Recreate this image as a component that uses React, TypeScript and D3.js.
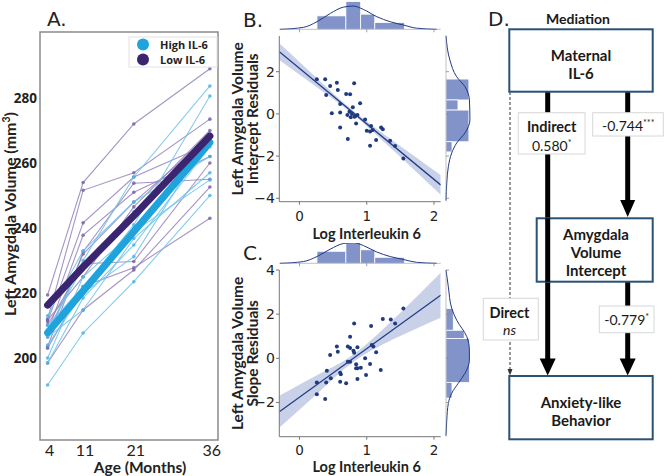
import React from "react";
import * as d3 from "d3";

// ---------- Panel A data ----------
const ages = [4, 11, 21, 36];
const ageTicks = [4, 11, 21, 36];
const volTicks = [200, 220, 240, 260, 280];
const lowIL6Subjects: number[][] = [
  [219.4, 254.0, 272.0, 289.0],
  [212.0, 251.6, 257.0, 273.5],
  [211.2, 241.6, 255.7, 266.0],
  [208.0, 237.8, 251.0, 262.0],
  [203.5, 232.7, 253.8, 255.0],
  [210.2, 229.0, 229.7, 260.0],
  [203.0, 222.0, 227.8, 243.0],
  [198.5, 214.8, 227.1, 252.6],
  [211.7, 225.0, 246.5, 270.0],
  [206.5, 232.0, 248.0, 268.0],
];
const highIL6Subjects: number[][] = [
  [191.7, 207.7, 223.5, 250.0],
  [198.5, 218.5, 234.8, 265.0],
  [207.0, 221.5, 241.0, 280.6],
  [208.6, 228.0, 245.0, 266.5],
  [206.5, 214.8, 236.8, 257.0],
  [210.0, 222.0, 240.0, 268.0],
  [200.0, 225.0, 238.9, 254.8],
  [208.0, 230.0, 255.7, 283.7],
  [213.0, 233.0, 248.0, 262.0],
  [204.0, 220.0, 231.2, 268.5],
];
const lowIL6Fit = [216.3, 228.0, 243.8, 268.3];
const highIL6Fit = [207.8, 220.6, 238.9, 266.3];
const legendLabels = ["High IL-6", "Low IL-6"];

// ---------- Panel B / C data ----------
const il6Ticks = [0, 1, 2];
const interceptTicks = [2, 0, -2, -4];
const slopeTicks = [4, 2, 0, -2];

const interceptX = [0.258, 0.382, 0.456, 0.556, 0.57, 0.397, 0.694, 0.753, 0.813, 0.605, 0.902, 0.793, 0.481, 0.605, 0.713, 0.743, 0.763, 0.828, 0.862, 0.842, 0.976, 0.605, 1.001, 1.065, 1.05, 1.09, 1.214, 1.239, 0.719, 1.14, 1.05, 1.348, 1.422, 1.545, 0.78, 0.82];
const interceptY = [1.64, 1.64, 1.32, 1.48, 1.13, 0.9, 0.94, 0.93, 1.45, 0.47, 0.5, 0.31, 0.03, 0.06, -0.05, 0.1, -0.16, -0.1, -0.05, -0.45, -0.26, -0.64, -0.8, -0.57, -0.84, -0.76, -0.65, -0.73, -1.19, -1.24, -1.51, -1.27, -1.52, -2.11, 0.0, -0.13];
const interceptFit = { slope: -2.63, intercept: 2.16 };
const interceptCiX = [-0.3, 0.3, 0.8, 1.4, 2.1];
const interceptCiHalf = [0.4, 0.2, 0.09, 0.23, 0.47];

const slopeX = [1.545, 0.813, 1.065, 1.239, 1.358, 1.422, 0.753, 0.753, 0.556, 0.719, 0.862, 0.57, 0.803, 0.813, 1.075, 1.099, 1.14, 0.456, 0.976, 0.719, 0.753, 0.842, 1.05, 0.862, 0.842, 0.912, 1.209, 0.407, 0.605, 0.615, 0.99, 0.466, 0.862, 0.258, 0.397, 0.605, 0.694, 0.258, 0.382];
const slopeY = [2.26, 1.58, 1.46, 1.78, 1.76, 1.58, 0.98, 0.47, 0.53, 0.53, 0.5, 0.3, 0.34, 0.25, 0.6, 0.53, 0.27, 0.15, 0.0, -0.15, -0.15, -0.27, -0.26, -0.45, -0.45, -0.43, -0.53, -0.56, -0.65, -0.72, -0.76, -0.9, -0.94, -1.09, -1.09, -1.06, -1.13, -1.63, -1.84];
const slopeFit = { slope: 2.2, intercept: -1.76 };
const slopeCiX = [-0.3, 0.3, 0.8, 1.4, 2.1];
const slopeCiHalf = [0.72, 0.4, 0.17, 0.45, 1.02];

// marginal: IL-6 histogram + kde
const il6BinEdges = [0.26, 0.69, 0.91, 1.12, 1.56];
const il6BinDensity = [0.48, 0.99, 0.54, 0.24];
const il6KdeX = [-0.29, 0.06, 0.26, 0.46, 0.65, 0.8, 0.95, 1.15, 1.35, 1.55, 1.74, 2.04];
const il6KdeD = [0, 0.07, 0.27, 0.57, 0.79, 0.83, 0.71, 0.45, 0.27, 0.15, 0.04, 0];

// marginal: intercept residuals
const interceptBinEdges = [1.65, 0.66, 0.18, -1.32, -1.8];
const interceptBinDensity = [0.88, 0.46, 0.88, 0.23];
const interceptKdeY = [3.7, 2.55, 1.76, 1.29, 0.66, -0.29, -0.9, -1.38, -1.85, -2.5, -3.27, -4.1];
const interceptKdeD = [0, 0.15, 0.41, 0.73, 0.9, 0.92, 0.73, 0.41, 0.22, 0.09, 0.03, 0];

// marginal: slope residuals
const slopeBinEdges = [2.26, 1.27, 0.9, -1.09, -1.8];
const slopeBinDensity = [0.28, 0.7, 0.9, 0.23];
const slopeKdeY = [4.0, 3.24, 2.26, 1.73, 0.98, 0.38, -0.08, -0.68, -1.13, -1.58, -2.04, -2.79, -3.5];
const slopeKdeD = [0, 0.09, 0.22, 0.41, 0.8, 0.9, 0.9, 0.73, 0.47, 0.22, 0.09, 0.03, 0];

// ---------- Panel D text ----------
const medTitle = "Mediation";
const nodeIL6 = ["Maternal", "IL-6"];
const nodeAmy = ["Amygdala", "Volume", "Intercept"];
const nodeAnx = ["Anxiety-like", "Behavior"];
const pathA = ["-0.744", "***"];
const pathB = ["-0.779", "*"];
const indirectLbl = ["Indirect", "0.580", "*"];
const directLbl = ["Direct", "ns"];

const HIGH = "#1ea3dc";
const LOW = "#3b2470";
const HIGH_THIN = "#6cc3ea";
const LOW_THIN = "#9582bb";
const DOT = "#1f3a7d";
const HIST = "#8193c9";
const BAND = "#b7c2e0";
const LINEC = "#1f3a86";
const BOXC = "#2a5275";

const LATO = "Lato, 'Open Sans', sans-serif";
const DJV = "'DejaVu Sans', sans-serif";

function PanelA() {
  const x = d3.scaleLinear().domain([2.5, 37.6]).range([40, 218]);
  const y = d3.scaleLinear().domain([174.8, 300.3]).range([440, 32]);
  const line = d3
    .line<number>()
    .x((_, i) => x(ages[i]))
    .y((d) => y(d));
  return (
    <g>
      <text x={47} y={26} fontFamily={DJV} fontSize={20} fill="#222">A.</text>
      {lowIL6Subjects.map((s, i) => (
        <g key={"l" + i}>
          <path d={line(s) || ""} fill="none" stroke={LOW_THIN} strokeWidth={1.1} opacity={0.85} />
          {s.map((v, j) => (
            <circle key={j} cx={x(ages[j])} cy={y(v)} r={1.8} fill="#7a63a8" opacity={0.85} />
          ))}
        </g>
      ))}
      {highIL6Subjects.map((s, i) => (
        <g key={"h" + i}>
          <path d={line(s) || ""} fill="none" stroke={HIGH_THIN} strokeWidth={1.1} opacity={0.85} />
          {s.map((v, j) => (
            <circle key={j} cx={x(ages[j])} cy={y(v)} r={1.8} fill="#4bb4e4" opacity={0.85} />
          ))}
        </g>
      ))}
      <path d={line(highIL6Fit) || ""} fill="none" stroke={HIGH} strokeWidth={7} strokeLinecap="round" />
      <path d={line(lowIL6Fit) || ""} fill="none" stroke={LOW} strokeWidth={7} strokeLinecap="round" />
      <rect x={40} y={32} width={178} height={408} fill="none" stroke="#8a8a8a" strokeWidth={1.5} />
      {volTicks.map((t) => (
        <text key={t} x={37} y={y(t) + 5} textAnchor="end" fontFamily="'Open Sans', sans-serif" fontWeight={700} fontSize={13.5} fill="#222">
          {t}
        </text>
      ))}
      {ageTicks.map((t) => (
        <text key={t} x={x(t) + 2} y={456} textAnchor="middle" fontFamily={LATO} fontSize={16} fill="#222">
          {t}
        </text>
      ))}
      <text x={140} y={473} textAnchor="middle" fontFamily={LATO} fontWeight={700} fontSize={15.5} fill="#222">
        Age (Months)
      </text>
      <text transform="translate(15.5,214) rotate(-90)" textAnchor="middle" fontFamily={LATO} fontWeight={700} fontSize={16} fill="#222">
        Left Amygdala Volume (mm<tspan dy={-6} fontSize={10.5}>3</tspan><tspan dy={6}>)</tspan>
      </text>
      <rect x={129} y={37} width={88} height={30} fill="#fff" stroke="#e2e2e2" strokeWidth={1} />
      {legendLabels.map((l, i) => (
        <g key={l}>
          <circle cx={143} cy={44.5 + i * 15} r={6} fill={i === 0 ? HIGH : LOW} />
          <text x={160} y={48.5 + i * 15} fontFamily="'Open Sans', sans-serif" fontWeight={700} fontSize={11} fill="#222">
            {l}
          </text>
        </g>
      ))}
    </g>
  );
}

type ScatterProps = {
  letter: string;
  top: number;
  bottom: number;
  yDomain: [number, number];
  yTicks: number[];
  xs: number[];
  ys: number[];
  fit: { slope: number; intercept: number };
  ciX: number[];
  ciHalf: number[];
  ylabel: string[];
  margTopBase: number;
  margTopScale: number;
  margTopClip: number;
  rBinEdges: number[];
  rBinDensity: number[];
  rKdeY: number[];
  rKdeD: number[];
  letterY: number;
  tickLabelY: number;
  xlabelY: number;
  id: string;
};

function ScatterPanel(p: ScatterProps) {
  const x = d3.scaleLinear().domain([-0.3, 2.1]).range([279.3, 440.7]);
  const y = d3.scaleLinear().domain(p.yDomain).range([p.bottom, p.top]);
  const fitY = (v: number) => p.fit.intercept + p.fit.slope * v;
  const band = d3
    .area<number>()
    .x((d) => x(d))
    .y0((d, i) => y(fitY(d) - p.ciHalf[i]))
    .y1((d, i) => y(fitY(d) + p.ciHalf[i]))
    .curve(d3.curveNatural);
  const dTop = d3.scaleLinear().domain([0, 1]).range([p.margTopBase, p.margTopBase - p.margTopScale]);
  const kdeTop = d3
    .line<number>()
    .x((d) => x(d))
    .y((_, i) => dTop(il6KdeD[i]))
    .curve(d3.curveMonotoneX);
  const dR = d3.scaleLinear().domain([0, 1]).range([446, 472]);
  const kdeR = d3
    .line<number>()
    .y((d) => y(d))
    .x((_, i) => dR(p.rKdeD[i]))
    .curve(d3.curveMonotoneY);
  const clipId = "clip" + p.id;
  const midY = (p.top + p.bottom) / 2;
  return (
    <g>
      <defs>
        <clipPath id={clipId}>
          <rect x={279.3} y={p.top} width={161.4} height={p.bottom - p.top} />
        </clipPath>
        <clipPath id={clipId + "t"}>
          <rect x={270} y={p.margTopClip} width={180} height={p.margTopBase - p.margTopClip + 1} />
        </clipPath>
      </defs>
      <text x={243} y={p.letterY} fontFamily={DJV} fontSize={20} fill="#222">{p.letter}</text>
      {/* top marginal */}
      <g clipPath={`url(#${clipId}t)`}>
        {il6BinDensity.map((d, i) => (
          <rect key={i} x={x(il6BinEdges[i])} y={dTop(d)} width={x(il6BinEdges[i + 1]) - x(il6BinEdges[i])} height={p.margTopBase - dTop(d)} fill={HIST} stroke="#fff" strokeWidth={0.8} />
        ))}
        <path d={kdeTop(il6KdeX) || ""} fill="none" stroke={LINEC} strokeWidth={1} />
      </g>
      <line x1={279.3} x2={440.7} y1={p.margTopBase} y2={p.margTopBase} stroke="#999" strokeWidth={0.6} />
      {il6Ticks.map((t) => (
        <line key={t} x1={x(t)} x2={x(t)} y1={p.margTopBase} y2={p.margTopBase + 3} stroke="#888" strokeWidth={0.8} />
      ))}
      {/* right marginal */}
      {p.rBinDensity.map((d, i) => (
        <rect key={i} x={446} y={y(p.rBinEdges[i])} width={dR(d) - 446} height={y(p.rBinEdges[i + 1]) - y(p.rBinEdges[i])} fill={HIST} stroke="#fff" strokeWidth={0.8} />
      ))}
      <path d={kdeR(p.rKdeY) || ""} fill="none" stroke={LINEC} strokeWidth={1} />
      <line x1={446} x2={446} y1={p.top} y2={p.bottom} stroke="#999" strokeWidth={0.6} />
      {p.yTicks.map((t) => (
        <line key={t} x1={446} x2={449} y1={y(t)} y2={y(t)} stroke="#888" strokeWidth={0.8} />
      ))}
      {/* main */}
      <g clipPath={`url(#${clipId})`}>
        <path d={band(p.ciX) || ""} fill={BAND} opacity={0.75} />
        <line x1={x(-0.3)} x2={x(2.1)} y1={y(fitY(-0.3))} y2={y(fitY(2.1))} stroke={LINEC} strokeWidth={1.3} />
      </g>
      {p.xs.map((v, i) => (
        <circle key={i} cx={x(v)} cy={y(p.ys[i])} r={2} fill={DOT} />
      ))}
      <line x1={279.3} x2={279.3} y1={p.top} y2={p.bottom} stroke="#777" strokeWidth={1} />
      <line x1={279.3} x2={440.7} y1={p.bottom} y2={p.bottom} stroke="#777" strokeWidth={1} />
      {p.yTicks.map((t) => (
        <g key={t}>
          <line x1={276} x2={279.3} y1={y(t)} y2={y(t)} stroke="#777" strokeWidth={1} />
          <text x={275} y={y(t) + 5} textAnchor="end" fontFamily={DJV} fontSize={14} fill="#222">
            {t < 0 ? "\u2212" + Math.abs(t) : t}
          </text>
        </g>
      ))}
      {il6Ticks.map((t) => (
        <g key={t}>
          <line x1={x(t)} x2={x(t)} y1={p.bottom} y2={p.bottom + 3} stroke="#777" strokeWidth={1} />
          <text x={x(t)} y={p.tickLabelY} textAnchor="middle" fontFamily={DJV} fontSize={13.5} fill="#222">
            {t}
          </text>
        </g>
      ))}
      <text x={366.7} y={p.xlabelY} textAnchor="middle" fontFamily={LATO} fontWeight={700} fontSize={14.5} fill="#222">
        Log Interleukin 6
      </text>
      <text transform={`translate(242.5,${midY}) rotate(-90)`} textAnchor="middle" fontFamily={LATO} fontWeight={700} fontSize={15.5} fill="#222">
        {p.ylabel[0]}
      </text>
      <text transform={`translate(258,${midY}) rotate(-90)`} textAnchor="middle" fontFamily={LATO} fontWeight={700} fontSize={15.5} fill="#222">
        {p.ylabel[1]}
      </text>
    </g>
  );
}

function Arrow({ x, y1, y2, w = 5, head = 16, hl = 17 }: { x: number; y1: number; y2: number; w?: number; head?: number; hl?: number }) {
  return (
    <g>
      <line x1={x} x2={x} y1={y1} y2={y2 - hl + 1} stroke="#000" strokeWidth={w} />
      <polygon points={`${x - head / 2},${y2 - hl} ${x + head / 2},${y2 - hl} ${x},${y2}`} fill="#000" />
    </g>
  );
}

function PanelD() {
  const tf = { fontFamily: LATO, fill: "#1a1a1a" };
  return (
    <g>
      <text x={488} y={26} fontFamily={DJV} fontSize={20} fill="#222">D.</text>
      <text x={578} y={24} textAnchor="middle" fontWeight={700} fontSize={14} {...tf}>{medTitle}</text>
      {/* dashed direct */}
      <line x1={510} x2={510} y1={92} y2={370} stroke="#333" strokeWidth={1} strokeDasharray="3,2" />
      <polygon points="507.5,369 512.5,369 510,375.5" fill="#333" />
      <Arrow x={547.7} y1={92} y2={375.5} head={16} hl={17} />
      <Arrow x={627.7} y1={92} y2={217} head={15} hl={17} />
      <Arrow x={627.7} y1={282} y2={375.5} head={16} hl={17} />
      {/* boxes */}
      <rect x={509.3} y={29.3} width={143.4} height={62.4} fill="#fff" stroke={BOXC} strokeWidth={2} />
      {nodeIL6.map((t, i) => (
        <text key={t} x={581} y={60.5 + i * 18} textAnchor="middle" fontWeight={700} fontSize={15} {...tf}>{t}</text>
      ))}
      <rect x={536.7} y={218.3} width={116} height={63.4} fill="#fff" stroke={BOXC} strokeWidth={2} />
      <line x1={547.7} x2={547.7} y1={218.3} y2={281.7} stroke="#000" strokeWidth={5} />
      {nodeAmy.map((t, i) => (
        <text key={t} x={596} y={239.5 + i * 18.3} textAnchor="middle" fontWeight={700} fontSize={15} {...tf}>{t}</text>
      ))}
      <rect x={509.3} y={376} width={143.4} height={63.3} fill="#fff" stroke={BOXC} strokeWidth={2} />
      {nodeAnx.map((t, i) => (
        <text key={t} x={581} y={408 + i * 18} textAnchor="middle" fontWeight={700} fontSize={15} {...tf}>{t}</text>
      ))}
      {/* labels */}
      <rect x={518.3} y={112.7} width={66.7} height={41.3} fill="#fff" stroke="#d8d8d8" strokeWidth={1} />
      <text x={551.7} y={132} textAnchor="middle" fontWeight={700} fontSize={14.5} {...tf}>{indirectLbl[0]}</text>
      <text x={551.7} y={150.5} textAnchor="middle" fontSize={14} {...tf}>
        {indirectLbl[1]}<tspan dy={-5} fontSize={9}>{indirectLbl[2]}</tspan>
      </text>
      <rect x={592.7} y={112.7} width={70.6} height={23.3} fill="#fff" stroke="#d8d8d8" strokeWidth={1} />
      <text x={628.3} y={131} textAnchor="middle" fontSize={14} {...tf}>
        {pathA[0]}<tspan dy={-5} fontSize={9}>{pathA[1]}</tspan>
      </text>
      <rect x={483.3} y={298.3} width={55} height={41.7} fill="#fff" stroke="#d8d8d8" strokeWidth={1} />
      <text x={509.5} y={318} textAnchor="middle" fontWeight={700} fontSize={14.5} {...tf}>{directLbl[0]}</text>
      <text x={509.5} y={334.5} textAnchor="middle" fontStyle="italic" fontSize={14} {...tf}>{directLbl[1]}</text>
      <rect x={599.3} y={306} width={54.7} height={26.7} fill="#fff" stroke="#d8d8d8" strokeWidth={1} />
      <text x={626.7} y={325} textAnchor="middle" fontSize={14} {...tf}>
        {pathB[0]}<tspan dy={-5} fontSize={9}>{pathB[1]}</tspan>
      </text>
    </g>
  );
}

export default function App() {
  return (
    <svg width={666} height={476} style={{ position: "absolute", left: 0, top: 0, background: "#fff" }}>
      <rect width={666} height={476} fill="#fff" />
      <PanelA />
      <ScatterPanel
        id="b"
        letter="B."
        letterY={27}
        top={36}
        bottom={201.7}
        yDomain={[-4.16, 3.69]}
        yTicks={interceptTicks}
        xs={interceptX}
        ys={interceptY}
        fit={interceptFit}
        ciX={interceptCiX}
        ciHalf={interceptCiHalf}
        ylabel={["Left Amygdala Volume", "Intercept Residuals"]}
        margTopBase={29.3}
        margTopScale={28}
        margTopClip={0}
        rBinEdges={interceptBinEdges}
        rBinDensity={interceptBinDensity}
        rKdeY={interceptKdeY}
        rKdeD={interceptKdeD}
        tickLabelY={221}
        xlabelY={239}
      />
      <ScatterPanel
        id="c"
        letter="C."
        letterY={260}
        top={270}
        bottom={436.7}
        yDomain={[-3.55, 4.0]}
        yTicks={slopeTicks}
        xs={slopeX}
        ys={slopeY}
        fit={slopeFit}
        ciX={slopeCiX}
        ciHalf={slopeCiHalf}
        ylabel={["Left Amygdala Volume", "Slope Residuals"]}
        margTopBase={263.3}
        margTopScale={25}
        margTopClip={243}
        rBinEdges={slopeBinEdges}
        rBinDensity={slopeBinDensity}
        rKdeY={slopeKdeY}
        rKdeD={slopeKdeD}
        tickLabelY={455}
        xlabelY={472}
      />
      <PanelD />
    </svg>
  );
}
